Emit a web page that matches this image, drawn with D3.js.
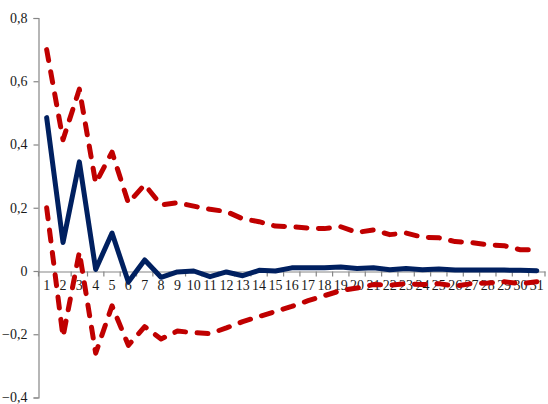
<!DOCTYPE html>
<html>
<head>
<meta charset="utf-8">
<script src="https://cdn.jsdelivr.net/npm/d3@7"></script>
<style>
html,body{margin:0;padding:0;background:#fff;}
svg{display:block;}
</style>
</head>
<body>
<svg id="chart" width="548" height="404"></svg>
<script>
const periods = d3.range(1, 32);
const response = [0.485, 0.09, 0.345, 0.005, 0.12, -0.035, 0.035, -0.02, -0.003, 0.0,
  -0.018, -0.003, -0.015, 0.002, 0.0, 0.01, 0.01, 0.01, 0.013, 0.008,
  0.01, 0.004, 0.008, 0.004, 0.006, 0.003, 0.003, 0.003, 0.003, 0.002, 0.001];
const upperBand = [0.70, 0.415, 0.575, 0.278, 0.376, 0.215, 0.273, 0.209, 0.216, 0.205,
  0.195, 0.188, 0.165, 0.156, 0.142, 0.14, 0.136, 0.134, 0.14, 0.122,
  0.13, 0.115, 0.12, 0.107, 0.105, 0.093, 0.09, 0.083, 0.08, 0.067, 0.067];
const lowerBand = [0.20, -0.208, 0.06, -0.26, -0.11, -0.235, -0.176, -0.215, -0.19, -0.195,
  -0.198, -0.18, -0.16, -0.144, -0.128, -0.112, -0.094, -0.078, -0.062, -0.054,
  -0.043, -0.045, -0.04, -0.043, -0.04, -0.048, -0.04, -0.038, -0.034, -0.04, -0.034];
const yTicks = [-0.4, -0.2, 0, 0.2, 0.4, 0.6, 0.8];

const svg = d3.select("#chart");
const mLeft = 38.5, mRight = 545, mTop = 18, mBottom = 397.5;

const x = d3.scaleBand().domain(periods).range([mLeft, mRight]).padding(0);
const y = d3.scaleLinear().domain([-0.4, 0.8]).range([mBottom, mTop]);
const cx = d => x(d) + x.bandwidth() / 2;

const axisColor = "#868686";
const font = '"Liberation Serif", "Times New Roman", serif';

// Y axis
const yAxis = svg.append("g")
  .attr("transform", `translate(${mLeft},0)`)
  .call(d3.axisLeft(y).tickValues(yTicks).tickSize(5).tickPadding(6)
    .tickFormat(d => d === 0 ? "0" : d3.format(".1f")(d).replace(".", ",")));
yAxis.attr("font-family", null).attr("font-size", null);
yAxis.select(".domain").attr("stroke", axisColor).attr("stroke-width", 1.2);
yAxis.selectAll(".tick line").attr("stroke", axisColor).attr("stroke-width", 1.2);
yAxis.selectAll("text").style("font-family", font).style("font-size", "14px").attr("fill", "#1a1a1a");

// X axis at y=0
const y0 = Math.round(y(0)) + 0.5;
const xAxis = svg.append("g")
  .attr("transform", `translate(0,${y0})`)
  .call(d3.axisBottom(x).tickSize(0).tickPadding(9));
xAxis.attr("font-family", null).attr("font-size", null);
xAxis.select(".domain").attr("stroke", axisColor).attr("stroke-width", 1.2);
xAxis.selectAll("text").style("font-family", font).style("font-size", "14px").attr("fill", "#1a1a1a");
const bounds = periods.map(p => x(p)).concat([x.range()[1]]);
xAxis.selectAll(".bnd").data(bounds).enter().append("line")
  .attr("x1", d => d).attr("x2", d => d).attr("y1", 0).attr("y2", 5)
  .attr("stroke", axisColor).attr("stroke-width", 1.2);

const line = d3.line().x((d, i) => cx(periods[i])).y(d => y(d));

svg.append("path").datum(response)
  .attr("d", line).attr("fill", "none")
  .attr("stroke", "#002060").attr("stroke-width", 5)
  .attr("stroke-linejoin", "round").attr("stroke-linecap", "round");

[upperBand, lowerBand].forEach(s => {
  svg.append("path").datum(s)
    .attr("d", line).attr("fill", "none")
    .attr("stroke", "#C00000").attr("stroke-width", 5)
    .attr("stroke-dasharray", "11,11.5")
    .attr("stroke-linejoin", "round").attr("stroke-linecap", "round");
});
</script>
</body>
</html>
